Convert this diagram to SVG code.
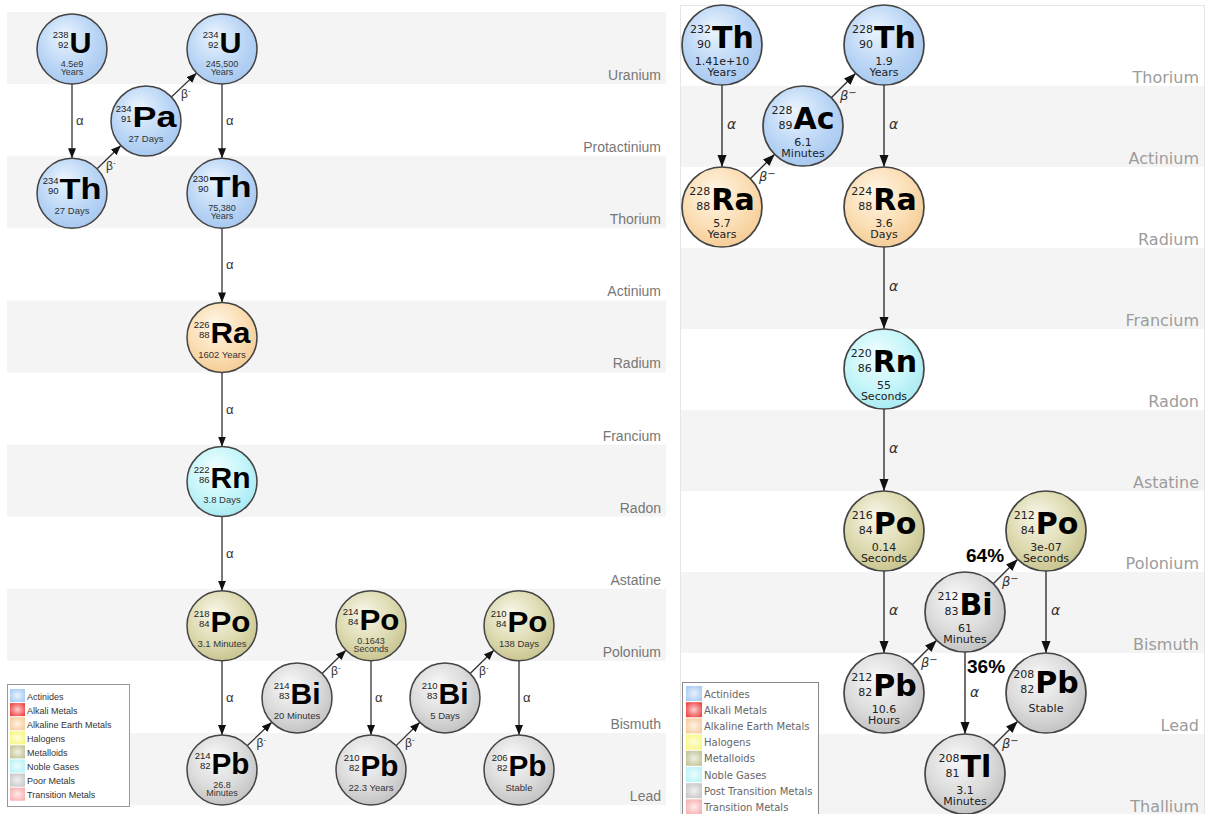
<svg xmlns="http://www.w3.org/2000/svg" width="1208" height="814" viewBox="0 0 1208 814">
<defs>
<style>
.band{fill:#f4f4f4}
.ll{font-family:"Liberation Sans",Arial,sans-serif;font-size:14px;fill:#777;text-anchor:end}
.lr{font-family:"DejaVu Sans",sans-serif;font-size:16px;fill:#9c9c9c;text-anchor:end}
.cl{stroke:#444;stroke-width:1.5}
.cr{stroke:#444;stroke-width:1.7}
.ml{font-family:"Liberation Sans",Arial,sans-serif;font-size:9.5px;fill:#222;text-anchor:end}
.sl{font-family:"Liberation Sans",Arial,sans-serif;font-size:30px;font-weight:bold;fill:#000}
.hl{font-family:"Liberation Sans",Arial,sans-serif;font-size:9px;fill:#333;text-anchor:middle}
.hl1{font-family:"Liberation Sans",Arial,sans-serif;font-size:9.5px;fill:#333;text-anchor:middle}
.mr{font-family:"DejaVu Sans",sans-serif;font-size:11px;fill:#222;text-anchor:end}
.sr{font-family:"DejaVu Sans",sans-serif;font-size:30px;font-weight:bold;fill:#000}
.hr{font-family:"DejaVu Sans",sans-serif;font-size:11px;fill:#222;text-anchor:middle}
.edl{stroke:#333;stroke-width:1.3;fill:none;marker-end:url(#ahL)}
.edr{stroke:#333;stroke-width:1.4;fill:none;marker-end:url(#ahR)}
.al{font-family:"Liberation Sans",Arial,sans-serif;font-size:13px;fill:#333}
.bl{font-family:"Liberation Sans",Arial,sans-serif;font-size:12px;fill:#333}
.ar{font-family:"DejaVu Sans",sans-serif;font-size:14px;font-style:italic;fill:#333}
.br{font-family:"DejaVu Sans",sans-serif;font-size:13px;font-style:italic;fill:#333}
.pct{font-family:"Liberation Sans",Arial,sans-serif;font-size:19px;font-weight:bold;fill:#000}
.lgl{font-family:"Liberation Sans",Arial,sans-serif;font-size:9px;fill:#333}
.lgr{font-family:"DejaVu Sans",sans-serif;font-size:10px;fill:#666}
.blue{fill:url(#gBlue)}
.peach{fill:url(#gPeach)}
.cyan{fill:url(#gCyan)}
.olive{fill:url(#gOlive)}
.gray{fill:url(#gGray)}
</style>
<radialGradient id="gBlue" cx="0.45" cy="0.4" r="0.6" fx="0.38" fy="0.3"><stop offset="0" stop-color="#edf5fe"/><stop offset="0.65" stop-color="#bcd7f6"/><stop offset="1" stop-color="#a8c9f0"/></radialGradient>
<radialGradient id="gPeach" cx="0.45" cy="0.4" r="0.6" fx="0.38" fy="0.3"><stop offset="0" stop-color="#fff6e8"/><stop offset="0.65" stop-color="#fbdfb6"/><stop offset="1" stop-color="#f5cd98"/></radialGradient>
<radialGradient id="gCyan" cx="0.45" cy="0.4" r="0.6" fx="0.38" fy="0.3"><stop offset="0" stop-color="#f2feff"/><stop offset="0.65" stop-color="#c6f6fa"/><stop offset="1" stop-color="#aaeaf2"/></radialGradient>
<radialGradient id="gOlive" cx="0.45" cy="0.4" r="0.6" fx="0.38" fy="0.3"><stop offset="0" stop-color="#f8f7ea"/><stop offset="0.65" stop-color="#dedbb2"/><stop offset="1" stop-color="#cac692"/></radialGradient>
<radialGradient id="gGray" cx="0.45" cy="0.4" r="0.6" fx="0.38" fy="0.3"><stop offset="0" stop-color="#f9f9f9"/><stop offset="0.65" stop-color="#dcdcdc"/><stop offset="1" stop-color="#c4c4c4"/></radialGradient>
<radialGradient id="shine" cx="0.5" cy="0.5" r="0.6"><stop offset="0" stop-color="#fff" stop-opacity="0.75"/><stop offset="1" stop-color="#fff" stop-opacity="0"/></radialGradient>
<marker id="ahL" markerUnits="userSpaceOnUse" markerWidth="11" markerHeight="9" refX="10" refY="4" orient="auto"><path d="M0,0 L10,4 L0,8 Z" fill="#111"/></marker>
<marker id="ahR" markerUnits="userSpaceOnUse" markerWidth="13" markerHeight="10" refX="12" refY="4.5" orient="auto"><path d="M0,0 L12,4.5 L0,9 Z" fill="#111"/></marker>
</defs>
<rect width="1208" height="814" fill="#fff"/>

<g id="left-bands">
<rect class="band" x="7" y="12" width="659" height="72.1"/>
<rect class="band" x="7" y="156.2" width="659" height="72.1"/>
<rect class="band" x="7" y="300.4" width="659" height="72.1"/>
<rect class="band" x="7" y="444.6" width="659" height="72.1"/>
<rect class="band" x="7" y="588.8" width="659" height="72.1"/>
<rect class="band" x="7" y="733" width="659" height="72.1"/>
<text class="ll" x="661" y="80">Uranium</text>
<text class="ll" x="661" y="152.1">Protactinium</text>
<text class="ll" x="661" y="224.2">Thorium</text>
<text class="ll" x="661" y="296.3">Actinium</text>
<text class="ll" x="661" y="368.4">Radium</text>
<text class="ll" x="661" y="440.5">Francium</text>
<text class="ll" x="661" y="512.6">Radon</text>
<text class="ll" x="661" y="584.7">Astatine</text>
<text class="ll" x="661" y="656.8">Polonium</text>
<text class="ll" x="661" y="728.9">Bismuth</text>
<text class="ll" x="661" y="801">Lead</text>
</g>

<g id="right-bands">
<rect x="680.5" y="5.5" width="524" height="812" fill="#fff" stroke="#e6e6e6"/>
<rect class="band" x="681" y="86" width="523" height="81"/>
<rect class="band" x="681" y="248" width="523" height="81"/>
<rect class="band" x="681" y="410" width="523" height="81"/>
<rect class="band" x="681" y="572" width="523" height="81"/>
<rect class="band" x="681" y="734" width="523" height="81"/>
<text class="lr" x="1199" y="83">Thorium</text>
<text class="lr" x="1199" y="164">Actinium</text>
<text class="lr" x="1199" y="245">Radium</text>
<text class="lr" x="1199" y="326">Francium</text>
<text class="lr" x="1199" y="407">Radon</text>
<text class="lr" x="1199" y="488">Astatine</text>
<text class="lr" x="1199" y="569">Polonium</text>
<text class="lr" x="1199" y="650">Bismuth</text>
<text class="lr" x="1199" y="731">Lead</text>
<text class="lr" x="1199" y="812">Thallium</text>
</g>

<g id="connectors">
<line class="edl" x1="72" y1="84" x2="72" y2="158.2"/><text class="al" x="76" y="125">α</text>
<line class="edl" x1="97.1" y1="168.8" x2="120.9" y2="145.5"/><text class="bl" x="106" y="170">β<tspan font-size="8" dy="-5">-</tspan></text>
<line class="edl" x1="171.4" y1="97" x2="196.6" y2="73.1"/><text class="bl" x="181" y="98">β<tspan font-size="8" dy="-5">-</tspan></text>
<line class="edl" x1="222" y1="84" x2="222" y2="158.2"/><text class="al" x="226" y="125">α</text>
<line class="edl" x1="222" y1="228.2" x2="222" y2="302.4"/><text class="al" x="226" y="269">α</text>
<line class="edl" x1="222" y1="372.4" x2="222" y2="446.6"/><text class="al" x="226" y="413.5">α</text>
<line class="edl" x1="222" y1="516.6" x2="222" y2="590.8"/><text class="al" x="226" y="557.7">α</text>
<line class="edl" x1="222" y1="660.8" x2="222" y2="735"/><text class="al" x="226" y="701.9">α</text>
<line class="edl" x1="247.2" y1="745.7" x2="271.8" y2="722.2"/><text class="bl" x="256.5" y="747">β<tspan font-size="8" dy="-5">-</tspan></text>
<line class="edl" x1="322.1" y1="673.5" x2="345.9" y2="650.2"/><text class="bl" x="331" y="675">β<tspan font-size="8" dy="-5">-</tspan></text>
<line class="edl" x1="371" y1="660.8" x2="371" y2="735"/><text class="al" x="375" y="701.9">α</text>
<line class="edl" x1="396.1" y1="745.6" x2="419.9" y2="722.3"/><text class="bl" x="405" y="747">β<tspan font-size="8" dy="-5">-</tspan></text>
<line class="edl" x1="470.1" y1="673.5" x2="493.9" y2="650.2"/><text class="bl" x="479" y="675">β<tspan font-size="8" dy="-5">-</tspan></text>
<line class="edl" x1="519" y1="660.8" x2="519" y2="735"/><text class="al" x="523" y="701.9">α</text>

<line class="edr" x1="722" y1="85" x2="722" y2="167"/><text class="ar" x="727" y="129">α</text>
<line class="edr" x1="750.3" y1="178.7" x2="774.7" y2="154.3"/><text class="br" x="759" y="181">β<tspan font-size="10" dy="-4">−</tspan></text>
<line class="edr" x1="831.3" y1="97.7" x2="855.7" y2="73.3"/><text class="br" x="840" y="100">β<tspan font-size="10" dy="-4">−</tspan></text>
<line class="edr" x1="884" y1="85" x2="884" y2="167"/><text class="ar" x="889" y="129">α</text>
<line class="edr" x1="884" y1="247" x2="884" y2="329"/><text class="ar" x="889" y="291">α</text>
<line class="edr" x1="884" y1="409" x2="884" y2="491"/><text class="ar" x="889" y="453">α</text>
<line class="edr" x1="884" y1="571" x2="884" y2="653"/><text class="ar" x="889" y="615">α</text>
<line class="edr" x1="912.3" y1="664.7" x2="936.7" y2="640.3"/><text class="br" x="921" y="667">β<tspan font-size="10" dy="-4">−</tspan></text>
<line class="edr" x1="993.3" y1="583.7" x2="1017.7" y2="559.3"/><text class="br" x="1002" y="586">β<tspan font-size="10" dy="-4">−</tspan></text>
<text class="pct" x="966" y="562">64%</text>
<line class="edr" x1="965" y1="652" x2="965" y2="734"/><text class="ar" x="970" y="697">α</text>
<text class="pct" x="967" y="673">36%</text>
<line class="edr" x1="1046" y1="571" x2="1046" y2="653"/><text class="ar" x="1051" y="615">α</text>
<line class="edr" x1="993.3" y1="745.7" x2="1017.7" y2="721.3"/><text class="br" x="1002" y="748">β<tspan font-size="10" dy="-4">−</tspan></text>
</g>

<g id="U238"><circle class="cl blue" cx="72" cy="49" r="35"/><text class="ml" x="68.5" y="38">238</text><text class="ml" x="68.5" y="48">92</text><text class="sl" x="69.5" y="53" textLength="22" lengthAdjust="spacingAndGlyphs">U</text><text class="hl" x="72" y="67">4.5e9</text><text class="hl" x="72" y="75">Years</text></g>
<g id="Pa234"><circle class="cl blue" cx="146" cy="121.1" r="35"/><text class="ml" x="131.5" y="112.1">234</text><text class="ml" x="131.5" y="122.1">91</text><text class="sl" x="132.5" y="127.1" textLength="44" lengthAdjust="spacingAndGlyphs">Pa</text><text class="hl1" x="146" y="142.1">27 Days</text></g>
<g id="Th234"><circle class="cl blue" cx="72" cy="193.2" r="35"/><text class="ml" x="58.5" y="184.2">234</text><text class="ml" x="58.5" y="194.2">90</text><text class="sl" x="59.5" y="199.2" textLength="42" lengthAdjust="spacingAndGlyphs">Th</text><text class="hl1" x="72" y="214.2">27 Days</text></g>
<g id="U234"><circle class="cl blue" cx="222" cy="49" r="35"/><text class="ml" x="218.5" y="38">234</text><text class="ml" x="218.5" y="48">92</text><text class="sl" x="219.5" y="53" textLength="22" lengthAdjust="spacingAndGlyphs">U</text><text class="hl" x="222" y="67">245,500</text><text class="hl" x="222" y="75">Years</text></g>
<g id="Th230"><circle class="cl blue" cx="222" cy="193.2" r="35"/><text class="ml" x="208.5" y="182.2">230</text><text class="ml" x="208.5" y="192.2">90</text><text class="sl" x="209.5" y="197.2" textLength="42" lengthAdjust="spacingAndGlyphs">Th</text><text class="hl" x="222" y="211.2">75,380</text><text class="hl" x="222" y="219.2">Years</text></g>
<g id="Ra226"><circle class="cl peach" cx="222" cy="337.4" r="35"/><text class="ml" x="209.5" y="328.4">226</text><text class="ml" x="209.5" y="338.4">88</text><text class="sl" x="210.5" y="343.4" textLength="40" lengthAdjust="spacingAndGlyphs">Ra</text><text class="hl1" x="222" y="358.4">1602 Years</text></g>
<g id="Rn222"><circle class="cl cyan" cx="222" cy="481.6" r="35"/><text class="ml" x="209.5" y="472.6">222</text><text class="ml" x="209.5" y="482.6">86</text><text class="sl" x="210.5" y="487.6" textLength="40" lengthAdjust="spacingAndGlyphs">Rn</text><text class="hl1" x="222" y="502.6">3.8 Days</text></g>
<g id="Po218"><circle class="cl olive" cx="222" cy="625.8" r="35"/><text class="ml" x="209.5" y="616.8">218</text><text class="ml" x="209.5" y="626.8">84</text><text class="sl" x="210.5" y="631.8" textLength="40" lengthAdjust="spacingAndGlyphs">Po</text><text class="hl1" x="222" y="646.8">3.1 Minutes</text></g>
<g id="Bi214"><circle class="cl gray" cx="297" cy="697.9" r="35"/><text class="ml" x="289.5" y="688.9">214</text><text class="ml" x="289.5" y="698.9">83</text><text class="sl" x="290.5" y="703.9" textLength="30" lengthAdjust="spacingAndGlyphs">Bi</text><text class="hl1" x="297" y="718.9">20 Minutes</text></g>
<g id="Pb214"><circle class="cl gray" cx="222" cy="770" r="35"/><text class="ml" x="210.5" y="759">214</text><text class="ml" x="210.5" y="769">82</text><text class="sl" x="211.5" y="774" textLength="38" lengthAdjust="spacingAndGlyphs">Pb</text><text class="hl" x="222" y="788">26.8</text><text class="hl" x="222" y="796">Minutes</text></g>
<g id="Po214"><circle class="cl olive" cx="371" cy="625.8" r="35"/><text class="ml" x="358.5" y="614.8">214</text><text class="ml" x="358.5" y="624.8">84</text><text class="sl" x="359.5" y="629.8" textLength="40" lengthAdjust="spacingAndGlyphs">Po</text><text class="hl" x="371" y="643.8">0.1643</text><text class="hl" x="371" y="651.8">Seconds</text></g>
<g id="Pb210"><circle class="cl gray" cx="371" cy="770" r="35"/><text class="ml" x="359.5" y="761">210</text><text class="ml" x="359.5" y="771">82</text><text class="sl" x="360.5" y="776" textLength="38" lengthAdjust="spacingAndGlyphs">Pb</text><text class="hl1" x="371" y="791">22.3 Years</text></g>
<g id="Bi210"><circle class="cl gray" cx="445" cy="697.9" r="35"/><text class="ml" x="437.5" y="688.9">210</text><text class="ml" x="437.5" y="698.9">83</text><text class="sl" x="438.5" y="703.9" textLength="30" lengthAdjust="spacingAndGlyphs">Bi</text><text class="hl1" x="445" y="718.9">5 Days</text></g>
<g id="Po210"><circle class="cl olive" cx="519" cy="625.8" r="35"/><text class="ml" x="506.5" y="616.8">210</text><text class="ml" x="506.5" y="626.8">84</text><text class="sl" x="507.5" y="631.8" textLength="40" lengthAdjust="spacingAndGlyphs">Po</text><text class="hl1" x="519" y="646.8">138 Days</text></g>
<g id="Pb206"><circle class="cl gray" cx="519" cy="770" r="35"/><text class="ml" x="507.5" y="761">206</text><text class="ml" x="507.5" y="771">82</text><text class="sl" x="508.5" y="776" textLength="38" lengthAdjust="spacingAndGlyphs">Pb</text><text class="hl1" x="519" y="791">Stable</text></g>

<g id="Th232"><circle class="cr blue" cx="722" cy="45" r="40"/><text class="mr" x="711.1" y="33">232</text><text class="mr" x="711.1" y="48">90</text><text class="sr" x="712.1" y="48">Th</text><text class="hr" x="722" y="65">1.41e+10</text><text class="hr" x="722" y="76">Years</text></g>
<g id="Ac228"><circle class="cr blue" cx="803" cy="126" r="40"/><text class="mr" x="792.5" y="114">228</text><text class="mr" x="792.5" y="129">89</text><text class="sr" x="793.5" y="129">Ac</text><text class="hr" x="803" y="146">6.1</text><text class="hr" x="803" y="157">Minutes</text></g>
<g id="Th228"><circle class="cr blue" cx="884" cy="45" r="40"/><text class="mr" x="873.1" y="33">228</text><text class="mr" x="873.1" y="48">90</text><text class="sr" x="874.1" y="48">Th</text><text class="hr" x="884" y="65">1.9</text><text class="hr" x="884" y="76">Years</text></g>
<g id="Ra228"><circle class="cr peach" cx="722" cy="207" r="40"/><text class="mr" x="710.3" y="195">228</text><text class="mr" x="710.3" y="210">88</text><text class="sr" x="711.3" y="210">Ra</text><text class="hr" x="722" y="227">5.7</text><text class="hr" x="722" y="238">Years</text></g>
<g id="Ra224"><circle class="cr peach" cx="884" cy="207" r="40"/><text class="mr" x="872.3" y="195">224</text><text class="mr" x="872.3" y="210">88</text><text class="sr" x="873.3" y="210">Ra</text><text class="hr" x="884" y="227">3.6</text><text class="hr" x="884" y="238">Days</text></g>
<g id="Rn220"><circle class="cr cyan" cx="884" cy="369" r="40"/><text class="mr" x="871.75" y="357">220</text><text class="mr" x="871.75" y="372">86</text><text class="sr" x="872.75" y="372">Rn</text><text class="hr" x="884" y="389">55</text><text class="hr" x="884" y="400">Seconds</text></g>
<g id="Po216"><circle class="cr olive" cx="884" cy="531" r="40"/><text class="mr" x="872.7" y="519">216</text><text class="mr" x="872.7" y="534">84</text><text class="sr" x="873.7" y="534">Po</text><text class="hr" x="884" y="551">0.14</text><text class="hr" x="884" y="562">Seconds</text></g>
<g id="Po212"><circle class="cr olive" cx="1046" cy="531" r="40"/><text class="mr" x="1034.7" y="519">212</text><text class="mr" x="1034.7" y="534">84</text><text class="sr" x="1035.7" y="534">Po</text><text class="hr" x="1046" y="551">3e-07</text><text class="hr" x="1046" y="562">Seconds</text></g>
<g id="Bi212"><circle class="cr gray" cx="965" cy="612" r="40"/><text class="mr" x="958.4" y="600">212</text><text class="mr" x="958.4" y="615">83</text><text class="sr" x="959.4" y="615">Bi</text><text class="hr" x="965" y="632">61</text><text class="hr" x="965" y="643">Minutes</text></g>
<g id="Pb212"><circle class="cr gray" cx="884" cy="693" r="40"/><text class="mr" x="872.25" y="681">212</text><text class="mr" x="872.25" y="696">82</text><text class="sr" x="873.25" y="696">Pb</text><text class="hr" x="884" y="713">10.6</text><text class="hr" x="884" y="724">Hours</text></g>
<g id="Pb208"><circle class="cr gray" cx="1046" cy="693" r="40"/><text class="mr" x="1034.25" y="678">208</text><text class="mr" x="1034.25" y="693">82</text><text class="sr" x="1035.25" y="693">Pb</text><text class="hr" x="1046" y="712">Stable</text></g>
<g id="Tl208"><circle class="cr gray" cx="965" cy="774" r="40"/><text class="mr" x="959.6" y="762">208</text><text class="mr" x="959.6" y="777">81</text><text class="sr" x="960.6" y="777">Tl</text><text class="hr" x="965" y="794">3.1</text><text class="hr" x="965" y="805">Minutes</text></g>

<g id="legend-left">
<rect x="7.5" y="684.5" width="122" height="122" fill="#fff" stroke="#999"/>
<rect x="10" y="689" width="15" height="13" fill="#a8ccf4"/><rect x="10" y="689" width="15" height="13" fill="url(#shine)"/><text class="lgl" x="27" y="699.5">Actinides</text>
<rect x="10" y="703.1" width="15" height="13" fill="#f04444"/><rect x="10" y="703.1" width="15" height="13" fill="url(#shine)"/><text class="lgl" x="27" y="713.6">Alkali Metals</text>
<rect x="10" y="717.2" width="15" height="13" fill="#f8cc9c"/><rect x="10" y="717.2" width="15" height="13" fill="url(#shine)"/><text class="lgl" x="27" y="727.7">Alkaline Earth Metals</text>
<rect x="10" y="731.3" width="15" height="13" fill="#f8f880"/><rect x="10" y="731.3" width="15" height="13" fill="url(#shine)"/><text class="lgl" x="27" y="741.8">Halogens</text>
<rect x="10" y="745.4" width="15" height="13" fill="#c4c498"/><rect x="10" y="745.4" width="15" height="13" fill="url(#shine)"/><text class="lgl" x="27" y="755.9">Metalloids</text>
<rect x="10" y="759.5" width="15" height="13" fill="#b8f4f8"/><rect x="10" y="759.5" width="15" height="13" fill="url(#shine)"/><text class="lgl" x="27" y="770">Noble Gases</text>
<rect x="10" y="773.6" width="15" height="13" fill="#c8c8c8"/><rect x="10" y="773.6" width="15" height="13" fill="url(#shine)"/><text class="lgl" x="27" y="784.1">Poor Metals</text>
<rect x="10" y="787.7" width="15" height="13" fill="#f8b0b0"/><rect x="10" y="787.7" width="15" height="13" fill="url(#shine)"/><text class="lgl" x="27" y="798.2">Transition Metals</text>
</g>

<g id="legend-right">
<rect x="682.5" y="682.5" width="136" height="140" fill="#fff" stroke="#888"/>
<rect x="686" y="686" width="16" height="15" fill="#a8ccf4"/><rect x="686" y="686" width="16" height="15" fill="url(#shine)"/><text class="lgr" x="704" y="697.5">Actinides</text>
<rect x="686" y="702.2" width="16" height="15" fill="#f04444"/><rect x="686" y="702.2" width="16" height="15" fill="url(#shine)"/><text class="lgr" x="704" y="713.7">Alkali Metals</text>
<rect x="686" y="718.4" width="16" height="15" fill="#f8cc9c"/><rect x="686" y="718.4" width="16" height="15" fill="url(#shine)"/><text class="lgr" x="704" y="729.9">Alkaline Earth Metals</text>
<rect x="686" y="734.6" width="16" height="15" fill="#f8f880"/><rect x="686" y="734.6" width="16" height="15" fill="url(#shine)"/><text class="lgr" x="704" y="746.1">Halogens</text>
<rect x="686" y="750.8" width="16" height="15" fill="#c4c498"/><rect x="686" y="750.8" width="16" height="15" fill="url(#shine)"/><text class="lgr" x="704" y="762.3">Metalloids</text>
<rect x="686" y="767" width="16" height="15" fill="#b8f4f8"/><rect x="686" y="767" width="16" height="15" fill="url(#shine)"/><text class="lgr" x="704" y="778.5">Noble Gases</text>
<rect x="686" y="783.2" width="16" height="15" fill="#c8c8c8"/><rect x="686" y="783.2" width="16" height="15" fill="url(#shine)"/><text class="lgr" x="704" y="794.7">Post Transition Metals</text>
<rect x="686" y="799.4" width="16" height="15" fill="#f8b0b0"/><rect x="686" y="799.4" width="16" height="15" fill="url(#shine)"/><text class="lgr" x="704" y="810.9">Transition Metals</text>
</g>
</svg>
